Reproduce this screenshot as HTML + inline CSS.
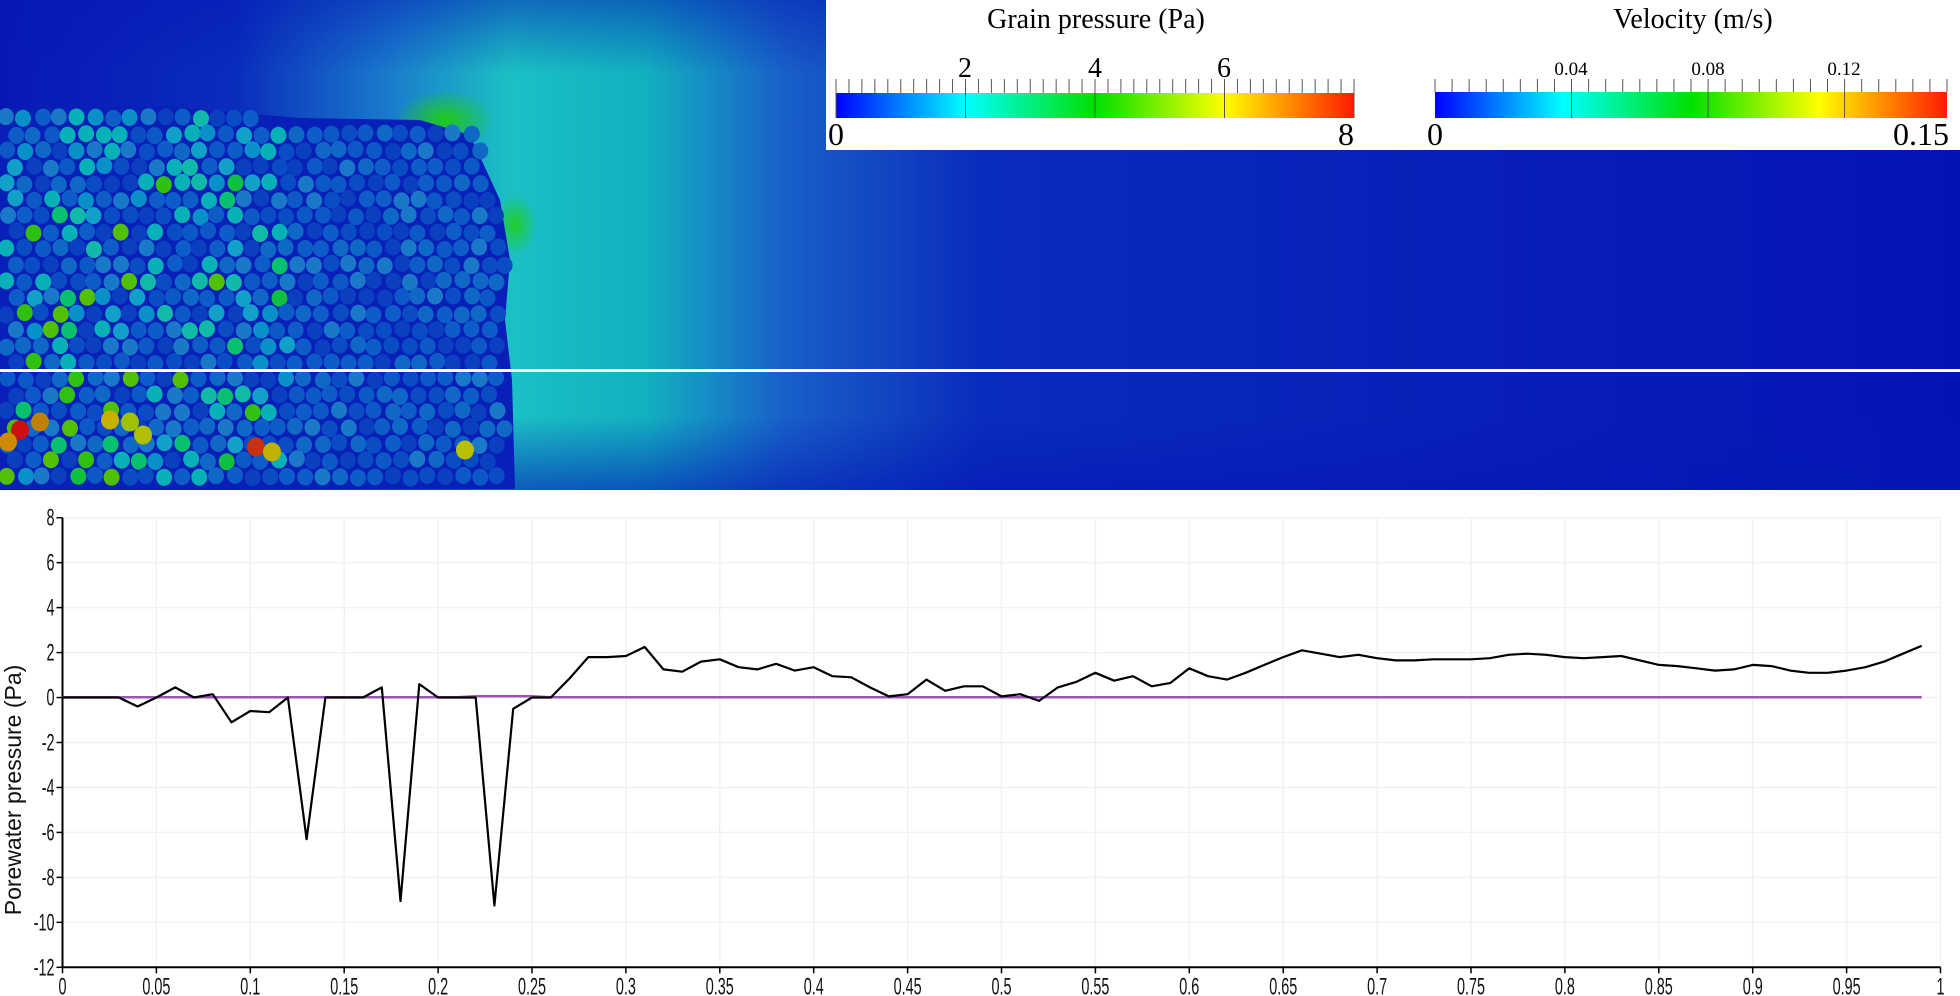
<!DOCTYPE html>
<html><head><meta charset="utf-8">
<style>
html,body{margin:0;padding:0;background:#fff;}
body{width:1960px;height:996px;position:relative;overflow:hidden;font-family:"Liberation Sans",sans-serif;}
#sim{position:absolute;left:0;top:0;}
#chart{position:absolute;left:0;top:490px;}
</style></head>
<body>
<svg id="sim" width="1960" height="490" xmlns="http://www.w3.org/2000/svg">
<defs>
<linearGradient id="fluid" x1="0" x2="1" y1="0" y2="0">
<stop offset="0" stop-color="#0718b4"/>
<stop offset="0.12" stop-color="#0a2cbc"/>
<stop offset="0.2" stop-color="#1a7ccc"/>
<stop offset="0.26" stop-color="#1cc0c4"/>
<stop offset="0.33" stop-color="#12b0c0"/>
<stop offset="0.4" stop-color="#1860c8"/>
<stop offset="0.5" stop-color="#0a2cbc"/>
<stop offset="1" stop-color="#0414b4"/>
</linearGradient>
<linearGradient id="topfade" x1="0" x2="0" y1="0" y2="1">
<stop offset="0" stop-color="#0418b4" stop-opacity="0.5"/>
<stop offset="0.15" stop-color="#0418b4" stop-opacity="0"/>
<stop offset="0.85" stop-color="#0418b4" stop-opacity="0"/>
<stop offset="1" stop-color="#0418b4" stop-opacity="0.6"/>
</linearGradient>
<radialGradient id="glow1"><stop offset="0" stop-color="#20d000"/><stop offset="1" stop-color="#20d000" stop-opacity="0"/></radialGradient>
<linearGradient id="jet" x1="0" x2="1">
<stop offset="0" stop-color="#0000ff"/><stop offset="0.25" stop-color="#00ffff"/><stop offset="0.5" stop-color="#00e000"/><stop offset="0.75" stop-color="#ffff00"/><stop offset="0.88" stop-color="#ff8800"/><stop offset="1" stop-color="#ff1a00"/>
</linearGradient>
</defs>
<rect x="0" y="0" width="1960" height="490" fill="url(#fluid)"/>
<rect x="0" y="0" width="1960" height="490" fill="url(#topfade)"/>
<ellipse cx="445" cy="120" rx="50" ry="30" fill="url(#glow1)" opacity="0.9"/>
<ellipse cx="515" cy="225" rx="22" ry="30" fill="url(#glow1)" opacity="0.8"/>
<path d="M0,110 L150,105 L300,118 L420,120 L470,135 L500,200 L510,260 L505,320 L512,380 L515,489 L0,489 Z" fill="#0820b8"/>
<g id="grains"></g>
<rect x="0" y="369" width="1960" height="3" fill="#ffffff"/>
<g>
<rect x="826" y="0" width="1134" height="150" fill="#ffffff"/>
<text x="1096" y="28" text-anchor="middle" font-family="Liberation Serif,serif" font-size="28">Grain pressure (Pa)</text>
<rect x="836" y="93" width="518" height="25" fill="url(#jet)"/>
<g id="gticks"></g>
<text x="965" y="77" text-anchor="middle" font-family="Liberation Serif,serif" font-size="28">2</text>
<text x="1095" y="77" text-anchor="middle" font-family="Liberation Serif,serif" font-size="28">4</text>
<text x="1224" y="77" text-anchor="middle" font-family="Liberation Serif,serif" font-size="28">6</text>
<text x="828" y="145" font-family="Liberation Serif,serif" font-size="32">0</text>
<text x="1354" y="145" text-anchor="end" font-family="Liberation Serif,serif" font-size="32">8</text>
<text x="1693" y="28" text-anchor="middle" font-family="Liberation Serif,serif" font-size="28">Velocity (m/s)</text>
<rect x="1435" y="92" width="512" height="26" fill="url(#jet)"/>
<g id="vticks"></g>
<text x="1571" y="75" text-anchor="middle" font-family="Liberation Serif,serif" font-size="19">0.04</text>
<text x="1708" y="75" text-anchor="middle" font-family="Liberation Serif,serif" font-size="19">0.08</text>
<text x="1844" y="75" text-anchor="middle" font-family="Liberation Serif,serif" font-size="19">0.12</text>
<text x="1427" y="145" font-family="Liberation Serif,serif" font-size="32">0</text>
<text x="1949" y="145" text-anchor="end" font-family="Liberation Serif,serif" font-size="32">0.15</text>
</g>
</svg>

<svg id="chart" width="1960" height="506" xmlns="http://www.w3.org/2000/svg">
<g id="grid"></g>
<g id="axes"></g>
<path id="zeroLine" fill="none" stroke="#9b55b5" stroke-width="2.5"/>
<path id="pLine" fill="none" stroke="#000" stroke-width="2.2" stroke-linejoin="round"/>
<text transform="translate(21,300) rotate(-90)" text-anchor="middle" font-size="23" fill="#111">Porewater pressure (Pa)</text>
</svg>

<script>
// ---- chart data ----
const xValues = [];
for (let i = 0; i < 100; i++) xValues.push(+(i*0.01).toFixed(2));
const pressure = [0,0,0,0,-0.4,0,0.45,0,0.15,-1.1,
-0.6,-0.65,0,-6.3,0,0,0,0.45,-9.05,0.6,
0,0,0,-9.25,-0.5,0,0,0.85,1.8,1.8,
1.85,2.25,1.25,1.15,1.6,1.7,1.35,1.25,1.5,1.2,
1.35,0.95,0.9,0.45,0.05,0.15,0.8,0.3,0.5,0.5,
0.05,0.15,-0.15,0.45,0.7,1.1,0.75,0.95,0.5,0.65,
1.3,0.95,0.8,1.1,1.45,1.8,2.1,1.95,1.8,1.9,
1.75,1.65,1.65,1.7,1.7,1.7,1.75,1.9,1.95,1.9,
1.8,1.75,1.8,1.85,1.65,1.45,1.4,1.3,1.2,1.25,
1.45,1.4,1.2,1.1,1.1,1.2,1.35,1.6,1.95,2.3];
const purple = xValues.map(x => (x>=0.22 && x<=0.25) ? 0.06 : 0.01);
const xTicks = [0,0.05,0.1,0.15,0.2,0.25,0.3,0.35,0.4,0.45,0.5,0.55,0.6,0.65,0.7,0.75,0.8,0.85,0.9,0.95,1];
const xTickLabels = ["0","0.05","0.1","0.15","0.2","0.25","0.3","0.35","0.4","0.45","0.5","0.55","0.6","0.65","0.7","0.75","0.8","0.85","0.9","0.95","1"];
const yTicks = [8,6,4,2,0,-2,-4,-6,-8,-10,-12];
const yTickLabels = ["8","6","4","2","0","-2","-4","-6","-8","-10","-12"];

const NS = "http://www.w3.org/2000/svg";
const X0 = 62.5, X1 = 1940.5, YT = 27.7, YB = 477.3;
const xs = v => X0 + (v-0)/(1-0)*(X1-X0);
const ys = v => YT + (8-v)/(20)*(YB-YT);
function mk(tag, attrs, parent){const e=document.createElementNS(NS,tag);for(const k in attrs)e.setAttribute(k,attrs[k]);parent.appendChild(e);return e;}
const grid = document.getElementById('grid'), axes = document.getElementById('axes');
xTicks.forEach((t,i)=>{
  const gl = mk('line',{x1:xs(t),x2:xs(t),y1:YT,y2:YB,stroke:'#f2f2f2','stroke-width':1.5},grid);
  
  
  mk('line',{x1:xs(t),x2:xs(t),y1:YB,y2:YB+6,stroke:'#000','stroke-width':1.5},axes);
  const tx = mk('text',{x:0,y:0,'text-anchor':'middle','font-size':24,fill:'#111',transform:`translate(${xs(t)},${YB+27}) scale(0.6,1)`},axes);
  tx.textContent = xTickLabels[i];
  
  
});
yTicks.forEach((t,i)=>{
  const gl = mk('line',{x1:X0,x2:X1,y1:ys(t),y2:ys(t),stroke:'#f2f2f2','stroke-width':1.5},grid);
  
  
  mk('line',{x1:X0-6,x2:X0,y1:ys(t),y2:ys(t),stroke:'#000','stroke-width':1.5},axes);
  const tx = mk('text',{x:0,y:0,'text-anchor':'end','font-size':24,fill:'#111',transform:`translate(${X0-8},${ys(t)+8}) scale(0.6,1)`},axes);
  tx.textContent = yTickLabels[i];
  
  
});
mk('line',{x1:X0,x2:X0,y1:YT,y2:YB,stroke:'#000','stroke-width':2},axes);
mk('line',{x1:X0,x2:X1,y1:YB,y2:YB,stroke:'#000','stroke-width':2},axes);
document.getElementById('pLine').setAttribute('d', xValues.map((x,i)=>(i?'L':'M')+xs(x).toFixed(1)+','+ys(pressure[i]).toFixed(1)).join(''));
document.getElementById('zeroLine').setAttribute('d', xValues.map((x,i)=>(i?'L':'M')+xs(x).toFixed(1)+','+ys(purple[i]).toFixed(1)).join(''));

// ---- colorbar ticks (decorative) ----
const gt = document.getElementById('gticks');
for(let i=0;i<=40;i++){const x=836+518*i/40;const major=i%10===0;mk('line',{x1:x,x2:x,y1:79,y2:major?118:93,stroke:'#555','stroke-width':1},gt);}
const vt = document.getElementById('vticks');
for(let i=0;i<=30;i++){const x=1435+512*i/30;const major=i%8===0;mk('line',{x1:x,x2:x,y1:79,y2:major&&i>0?118:92,stroke:'#555','stroke-width':1},vt);}

// ---- decorative grains ----
let seed = 12345;
function rnd(){seed=(seed*16807)%2147483647;return seed/2147483647;}
const gg = document.getElementById('grains');
const blues=['#0a4cc4','#0d5cc8','#0a3fc0','#1068c6','#0c58c6','#1a78c8'];
const cyans=['#10a0c8','#08b0b8','#12b8a8','#0890c8'];
const greens=['#10c040','#30c010','#50c000','#08c070'];
for(let row=0; row<23; row++){
  const y = 118 + row*16.3;
  const off = (row%2)*9;
  for(let col=0; col<30; col++){
    const x = 7 + off + col*17.5 + (rnd()-0.5)*3;
    const edgeTop = 110 + x*0.03;
    let edge = 505;
    if (y < 200) edge = 470 + (y-120)*0.4;
    if (x > edge || y < edgeTop) continue;
    let fill;
    const r = rnd();
    const depth = (y-120)/370, left = 1 - x/510;
    if (x > 290) fill = blues[Math.floor(rnd()*blues.length)];
    else if (r < 0.1*depth*left*3) fill = greens[Math.floor(rnd()*greens.length)];
    else if (r < 0.35) fill = cyans[Math.floor(rnd()*cyans.length)];
    else fill = blues[Math.floor(rnd()*blues.length)];
    mk('ellipse',{cx:x.toFixed(1),cy:(y+(rnd()-0.5)*3).toFixed(1),rx:8,ry:8.5,fill:fill},gg);
  }
}
[[20,430,'#cc1010'],[8,442,'#d08a00'],[40,422,'#c08000'],[256,447,'#c83010'],[110,420,'#c8b000'],[130,422,'#a0c000'],[272,452,'#c0b000'],[465,450,'#b8c000'],[143,435,'#b0c000']].forEach(d=>{
  mk('ellipse',{cx:d[0],cy:d[1],rx:9,ry:9.5,fill:d[2]},gg);
});
</script>
</body></html>
